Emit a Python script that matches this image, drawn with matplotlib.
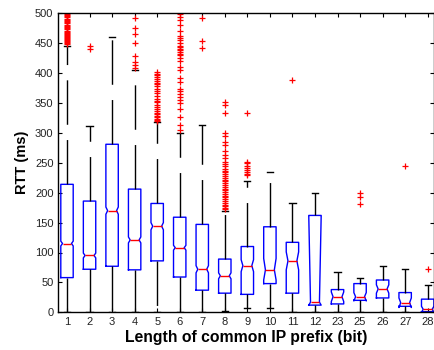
import numpy as np
import matplotlib
matplotlib.use("Agg")
import matplotlib.pyplot as plt

plt.rcParams["font.family"] = ["Liberation Sans", "DejaVu Sans"]
plt.rcParams["lines.scale_dashes"] = False

# prefix length categories
labels = ["1", "2", "3", "4", "5", "6", "7", "8", "9", "10", "11", "12",
          "23", "25", "26", "27", "28"]

# box statistics (ms)
q1 = [58, 72, 77, 71, 86, 59, 37, 32, 30, 48, 32, 12, 14, 20, 24, 10, 1]
med = [115, 95, 170, 121, 144, 108, 72, 61, 78, 71, 86, 17, 26, 26, 39, 16, 5]
q3 = [214, 186, 281, 206, 182, 159, 147, 89, 110, 143, 117, 162, 38, 48, 54, 33, 22]
ci_lo = [111, 91, 164, 116, 138, 104, 66, 56, 68, 54, 71, 12, 18, 19, 32, 8, 0]
ci_hi = [119, 99, 176, 126, 150, 112, 78, 66, 88, 90, 101, 161, 34, 33, 46, 24, 10]
whis_lo = [1, 1, 1, 1, 1, 1, 1, 2, 7, 8, 1, 1, 1, 1, 1, 1, 0]
whis_hi = [445, 312, 460, 406, 318, 299, 314, 170, 220, 235, 182, 200, 67, 58, 77, 72, 45]

outliers = [
    [448, 450, 452, 454, 455, 457, 459, 460, 462, 464, 466, 467, 469, 471, 473,
     475, 477, 479, 481, 483, 485, 487, 489, 491, 493, 495, 497, 499],
    [441, 446],
    [],
    [408, 414, 419, 428, 450, 466, 475, 492],
    [320, 322, 324, 326, 328, 331, 334, 337, 340, 344, 347, 351, 354, 357, 362,
     366, 370, 374, 378, 381, 384, 387, 390, 393, 396, 399, 402],
    [305, 313, 327, 340, 350, 355, 360, 365, 370, 373, 385, 392, 405, 410, 420,
     425, 430, 432, 435, 438, 440, 443, 445, 450, 455, 458, 462, 470, 480, 488,
     494, 499],
    [442, 454, 492],
    [172, 174, 177, 180, 183, 186, 189, 192, 195, 198, 201, 204, 207, 210, 213,
     216, 219, 222, 225, 228, 231, 234, 237, 240, 245, 248, 252, 258, 263, 269,
     280, 285, 294, 299, 333, 347, 352],
    [229, 232, 235, 238, 241, 245, 249, 252, 333],
    [],
    [388],
    [],
    [],
    [181, 193, 199],
    [],
    [245],
    [73],
]

stats = []
for i in range(len(labels)):
    stats.append(dict(med=med[i], q1=q1[i], q3=q3[i], cilo=ci_lo[i], cihi=ci_hi[i],
                      whislo=whis_lo[i], whishi=whis_hi[i], fliers=outliers[i],
                      label=labels[i]))

fig = plt.figure(figsize=(4.34, 3.5), dpi=100)
ax = fig.add_axes([58.3 / 434, 1 - 312.3 / 350, (434 - 58.3) / 434, (312.3 - 13.3) / 350])

pos = np.arange(1, len(labels) + 1)
width = 0.55
parts = ax.bxp(stats, positions=pos, widths=width, shownotches=True,
               boxprops=dict(color="blue", linewidth=1.0),
               medianprops=dict(color="red", linewidth=1.0),
               whiskerprops=dict(color="black", linewidth=1.0, linestyle=(0, (32, 11))),
               capprops=dict(color="black", linewidth=1.0),
               flierprops=dict(marker="+", markeredgecolor="red", markersize=5,
                               markeredgewidth=0.9, linestyle="none"))

# MATLAB style notch: shallower than matplotlib's default (half width)
notch_half = width * 0.36
for p, box, mline in zip(pos, parts["boxes"], parts["medians"]):
    xs = np.asarray(box.get_xdata(), dtype=float)
    inner = np.isclose(np.abs(xs - p), width * 0.25)
    xs[inner] = p + np.sign(xs[inner] - p) * notch_half
    box.set_xdata(xs)
    mline.set_xdata([p - notch_half, p + notch_half])

ax.set_xlim(0.614, 17.28)
ax.set_ylim(0, 500)
ax.set_yticks(np.arange(0, 501, 50))
ax.set_xticks(pos)
ax.set_xticklabels(labels)
ax.tick_params(direction="in", length=3, width=0.8, labelsize=8,
               top=True, right=True, colors="black", labelcolor="#222222")
for s in ax.spines.values():
    s.set_linewidth(1.0)

ax.set_xlabel("Length of common IP prefix (bit)", fontsize=11.3, fontweight="bold", labelpad=2)
ax.set_ylabel("RTT (ms)", fontsize=10.5, fontweight="bold", labelpad=4)

fig.savefig("out.png", dpi=100)
